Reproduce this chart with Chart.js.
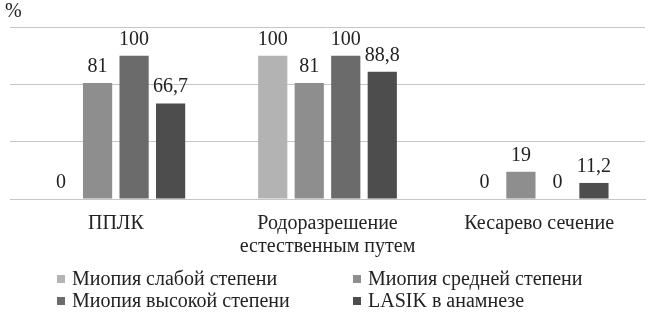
<!DOCTYPE html>
<html>
<head>
<meta charset="utf-8">
<script src="https://cdn.jsdelivr.net/npm/chart.js@4"></script>
<style>
    body { margin: 0; background: #fff; }
    #wrap { position: relative; width: 650px; height: 317px; }
    #chartBox { position: absolute; left: 0; top: 0; width: 650px; height: 271px; }
    #pct { position: absolute; left: 5px; top: -1px; font-size: 20px; color: #222; }
    #legend { position: absolute; left: 57px; top: 268px; width: 570px; display: grid;
              grid-template-columns: 296px 270px; row-gap: 1px;
              font-size: 20px; color: #222; }
    .serif { font-family: 'Liberation Serif', 'Times New Roman', 'DejaVu Serif', serif; }
    .item { display: flex; align-items: center; height: 21px; white-space: nowrap; }
    .box { width: 8px; height: 8px; margin-right: 7px; }
</style>
</head>
<body>
<div id="wrap">
    <div id="chartBox"><canvas id="myChart"></canvas></div>
    <div id="pct" class="serif">%</div>
    <div id="legend" class="serif"></div>
</div>
<script>
const categories = [['ППЛК'], ['Родоразрешение', 'естественным путем'], ['Кесарево сечение']];
const seriesNames = ['Миопия слабой степени', 'Миопия средней степени', 'Миопия высокой степени', 'LASIK в анамнезе'];
const weak = [0, 100, 0];
const medium = [81, 81, 19];
const high = [100, 100, 0];
const lasik = [66.7, 88.8, 11.2];
const yTicks = [0, 40, 80, 120];

const colors = ['#b3b3b3', '#8e8e8e', '#6b6b6b', '#4d4d4d'];
const allSeries = [weak, medium, high, lasik];
const fontFamily = "'Liberation Serif', 'Times New Roman', 'DejaVu Serif', serif";

// value labels above bars, decimal comma like the original
const valueLabels = {
    id: 'valueLabels',
    afterDatasetsDraw(chart) {
        const ctx = chart.ctx;
        ctx.save();
        ctx.font = '20px ' + fontFamily;
        ctx.fillStyle = '#222';
        ctx.textAlign = 'center';
        ctx.textBaseline = 'alphabetic';
        chart.data.datasets.forEach(function(ds, i) {
            chart.getDatasetMeta(i).data.forEach(function(bar, j) {
                let txt = String(ds.data[j]).replace('.', ',');
                ctx.fillText(txt, bar.x, bar.y - 11);
            });
        });
        ctx.restore();
    }
};

const dataset = {
    labels: categories,
    datasets: allSeries.map(function(values, i) {
        return {
            label: seriesNames[i],
            data: values,
            backgroundColor: colors[i],
            barPercentage: 0.8,
            categoryPercentage: 0.69
        };
    })
};

let ctx = document.getElementById('myChart').getContext('2d');
new Chart(ctx, {
    type: 'bar',
    data: dataset,
    plugins: [valueLabels],
    options: {
        responsive: true,
        maintainAspectRatio: false,
        animation: false,
        layout: { padding: { left: 10, right: 5, top: 27, bottom: 0 } },
        plugins: {
            legend: { display: false },
            tooltip: { enabled: false }
        },
        scales: {
            x: {
                grid: { display: false, drawTicks: false },
                border: { color: '#c6c6c6' },
                ticks: {
                    color: '#222',
                    padding: 13,
                    maxRotation: 0,
                    autoSkip: false,
                    font: { family: fontFamily, size: 20, lineHeight: 1.15 }
                }
            },
            y: {
                min: 0,
                max: 120,
                afterBuildTicks: function(axis) {
                    axis.ticks = yTicks.map(function(v) { return { value: v }; });
                },
                grid: { color: '#c6c6c6', drawTicks: false },
                border: { display: false },
                ticks: { display: false }
            }
        }
    }
});

// legend in two columns, like the original
let legendEl = document.getElementById('legend');
[0, 1, 2, 3].forEach(function(i) {
    let item = document.createElement('div');
    item.className = 'item';
    let box = document.createElement('span');
    box.className = 'box';
    box.style.background = colors[i];
    item.appendChild(box);
    item.appendChild(document.createTextNode(seriesNames[i]));
    legendEl.appendChild(item);
});
</script>
</body>
</html>
